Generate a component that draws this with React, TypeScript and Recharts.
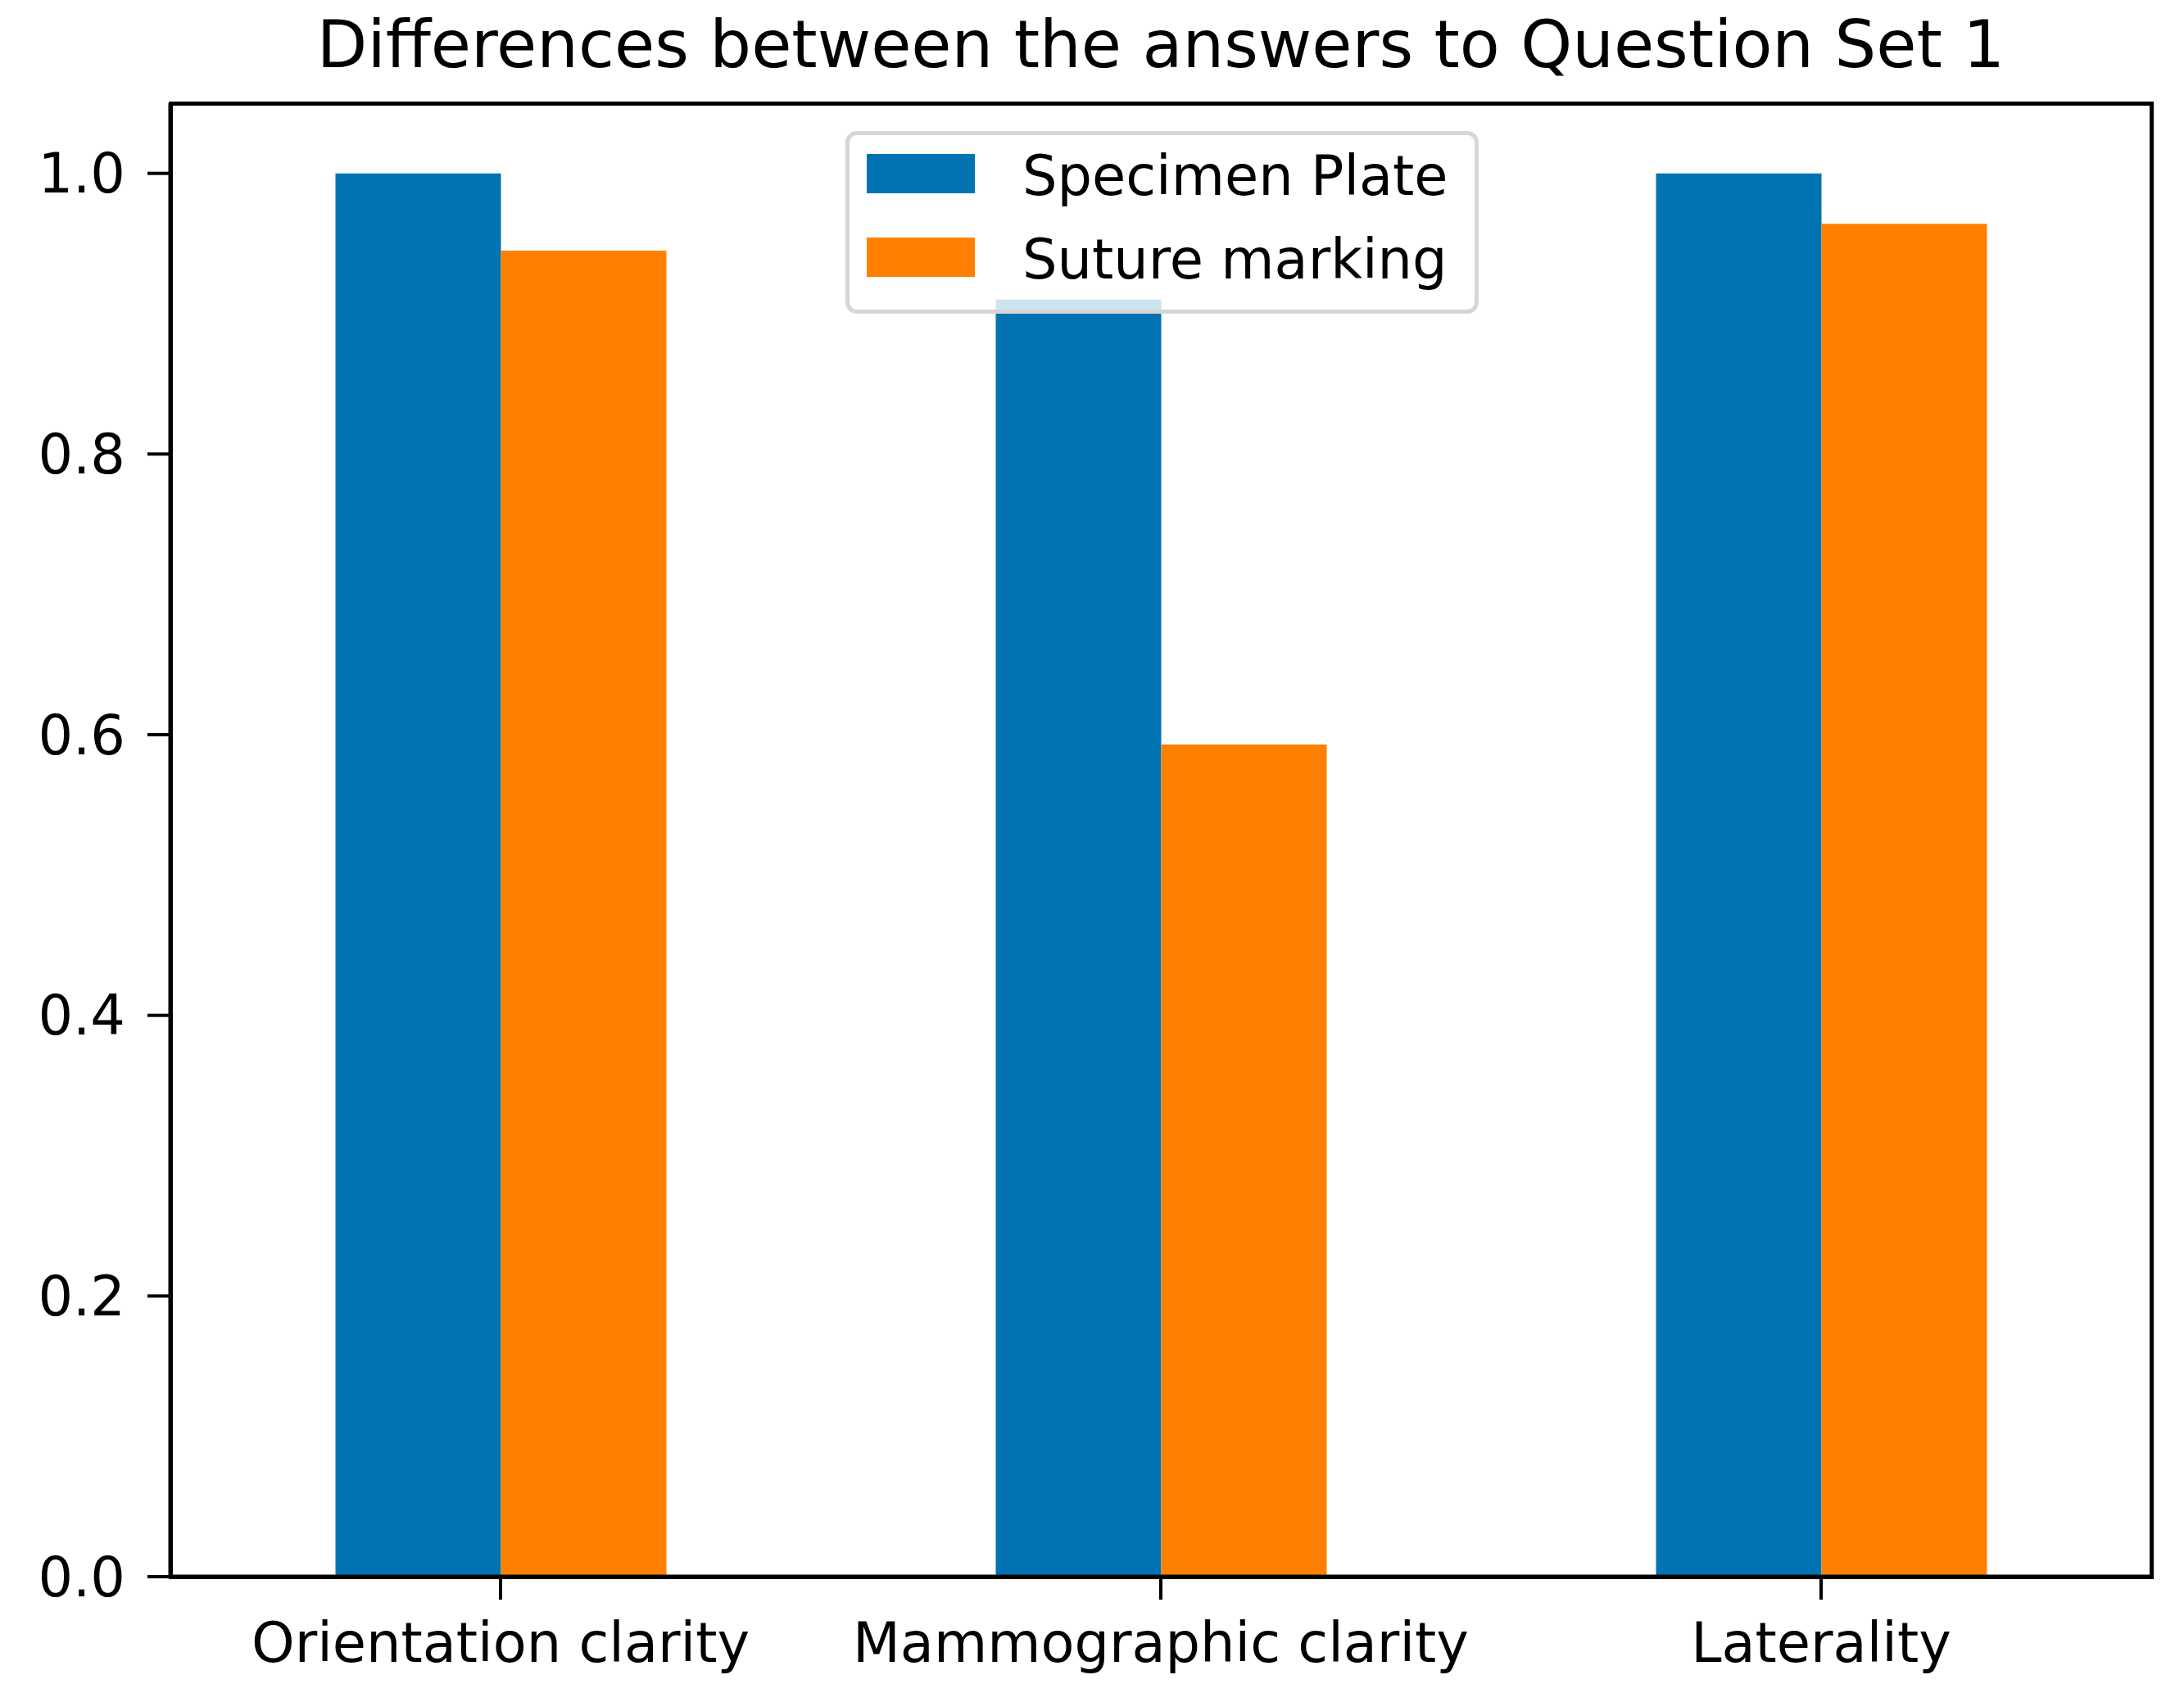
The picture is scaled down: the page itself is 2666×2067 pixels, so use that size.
import React from "react";
import {
  BarChart,
  Bar,
  XAxis,
  YAxis,
  Legend,
} from "recharts";

const categories = ["Orientation clarity", "Mammographic clarity", "Laterality"];
const specimenPlate = [1.0, 0.91, 1.0];
const sutureMarking = [0.945, 0.593, 0.964];
const yTicks = [0, 0.2, 0.4, 0.6, 0.8, 1.0];

const BLUE = "#0173B2";
const ORANGE = "#FF8000";
const FONT = "'DejaVu Sans', sans-serif";

const data = categories.map((name, i) => ({
  name,
  specimen: specimenPlate[i],
  suture: sutureMarking[i],
}));

const legendItems = [
  { label: "Specimen Plate", color: BLUE },
  { label: "Suture marking", color: ORANGE },
];

function MplLegend() {
  return (
    <div style={{ position: "relative", width: "100%", height: "100%" }}>
      {legendItems.map((item, i) => (
        <div
          key={item.label}
          style={{
            position: "absolute",
            left: 21,
            top: 23 + i * 102,
            height: 48,
            display: "flex",
            alignItems: "center",
          }}
        >
          <div style={{ width: 132, height: 48, background: item.color }} />
          <span
            style={{
              marginLeft: 58,
              fontFamily: FONT,
              fontSize: 67,
              color: "#000",
              lineHeight: "48px",
              whiteSpace: "nowrap",
              position: "relative",
              top: 3,
            }}
          >
            {item.label}
          </span>
        </div>
      ))}
    </div>
  );
}

export default function App() {
  return (
    <div
      style={{
        position: "absolute",
        left: 0,
        top: 0,
        width: 2666,
        height: 2067,
        background: "#fff",
      }}
    >
      <div
        style={{
          position: "absolute",
          left: 208,
          width: 2418,
          top: 8,
          textAlign: "center",
          fontFamily: FONT,
          fontSize: 80,
          color: "#000",
          whiteSpace: "nowrap",
        }}
      >
        Differences between the answers to Question Set 1
      </div>
      {/* axes frame (matplotlib spines on all four sides) */}
      <div
        style={{
          position: "absolute",
          left: 206,
          top: 124,
          width: 2423,
          height: 1804,
          boxSizing: "border-box",
          border: "5px solid #000",
          pointerEvents: "none",
        }}
      />
      <BarChart
        width={2666}
        height={2067}
        data={data}
        margin={{ top: 126, right: 40, bottom: 0, left: 0 }}
        barCategoryGap="25%"
        barGap={0}
      >
        <XAxis
          dataKey="name"
          height={142}
          tickSize={28}
          tickMargin={28}
          axisLine={{ stroke: "#000", strokeWidth: 5 }}
          tickLine={{ stroke: "#000", strokeWidth: 4 }}
          tick={{ fill: "#000", fontSize: 67, fontFamily: FONT }}
          interval={0}
        />
        <YAxis
          width={208}
          domain={[0, 1.05]}
          ticks={yTicks}
          tickFormatter={(v: number) => v.toFixed(1)}
          tickSize={28}
          tickMargin={27}
          axisLine={{ stroke: "#000", strokeWidth: 5 }}
          tickLine={{ stroke: "#000", strokeWidth: 4 }}
          tick={{ fill: "#000", fontSize: 67, fontFamily: FONT }}
          allowDataOverflow
        />
        <Legend
          layout="horizontal"
          verticalAlign="middle"
          align="center"
          content={() => <MplLegend />}
          wrapperStyle={{
            left: 1032,
            top: 160,
            width: 773,
            height: 223,
            boxSizing: "border-box",
            background: "rgba(255,255,255,0.8)",
            border: "5px solid #d6d6d6",
            borderRadius: 14,
          }}
        />
        <Bar
          dataKey="specimen"
          name="Specimen Plate"
          fill={BLUE}
          isAnimationActive={false}
        />
        <Bar
          dataKey="suture"
          name="Suture marking"
          fill={ORANGE}
          isAnimationActive={false}
        />
      </BarChart>
    </div>
  );
}
